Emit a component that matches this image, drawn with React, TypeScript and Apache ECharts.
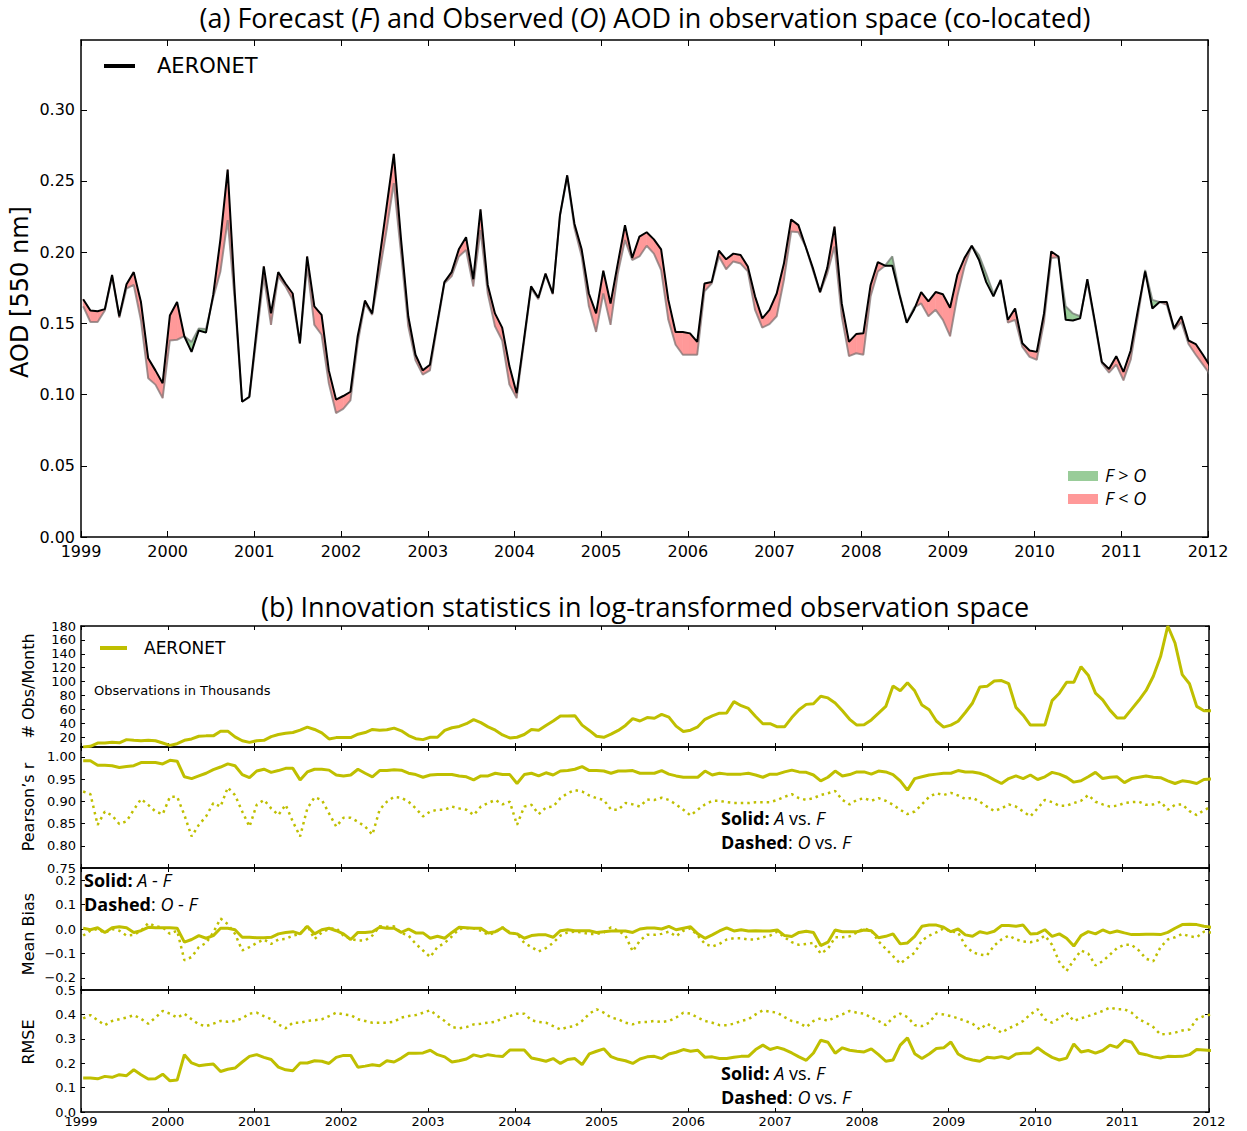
import React, { useEffect, useRef } from "react";
import * as echarts from "echarts";

// Monthly AOD at 550 nm, Jan 1999 onward: observed (AERONET) and co-located forecast
const observedAOD = [
  0.167, 0.159, 0.1585, 0.16, 0.184, 0.155, 0.1775, 0.186, 0.165, 0.1255, 0.117, 0.108,
  0.1555, 0.165, 0.141, 0.13, 0.145, 0.1435, 0.17, 0.209, 0.258, 0.17, 0.095, 0.0985,
  0.145, 0.19, 0.157, 0.186, 0.178, 0.171, 0.136, 0.197, 0.162, 0.156, 0.117, 0.0965,
  0.099, 0.102, 0.141, 0.166, 0.157, 0.195, 0.232, 0.269, 0.209, 0.155, 0.128, 0.117,
  0.121, 0.15, 0.179, 0.186, 0.202, 0.2105, 0.181, 0.23, 0.177, 0.157, 0.147, 0.12,
  0.101, 0.138, 0.176, 0.168, 0.185, 0.171, 0.226, 0.254, 0.22, 0.202, 0.171, 0.157,
  0.187, 0.164, 0.192, 0.219, 0.196, 0.211, 0.214, 0.209, 0.202, 0.1665, 0.144, 0.144,
  0.143, 0.137, 0.178, 0.179, 0.201, 0.195, 0.199, 0.198, 0.19, 0.169, 0.1535, 0.1595,
  0.171, 0.192, 0.223, 0.219, 0.204, 0.189, 0.172, 0.189, 0.218, 0.164, 0.137, 0.1425,
  0.143, 0.177, 0.193, 0.1905, 0.1905, 0.17, 0.1505, 0.1595, 0.172, 0.1655, 0.172, 0.1705,
  0.161, 0.184, 0.196, 0.2045, 0.1945, 0.179, 0.169, 0.1805, 0.1525, 0.1605, 0.136, 0.131,
  0.13, 0.157, 0.2005, 0.197, 0.1525, 0.152, 0.1535, 0.181, 0.1525, 0.123, 0.118, 0.127,
  0.116, 0.131, 0.1595, 0.1865, 0.1605, 0.165, 0.165, 0.1465, 0.155, 0.138, 0.1355, 0.128,
  0.12,
];
const forecastAOD = [
  0.162, 0.151, 0.151, 0.159, 0.183, 0.154, 0.1745, 0.177, 0.152, 0.1115, 0.107, 0.0975,
  0.138, 0.1385, 0.141, 0.137, 0.1465, 0.146, 0.168, 0.1865, 0.2225, 0.165, 0.095, 0.098,
  0.14, 0.183, 0.149, 0.183, 0.176, 0.1665, 0.136, 0.19, 0.149, 0.142, 0.108, 0.087,
  0.09, 0.096, 0.136, 0.164, 0.156, 0.185, 0.2155, 0.2485, 0.199, 0.148, 0.124, 0.114,
  0.117, 0.148, 0.178, 0.183, 0.197, 0.2015, 0.176, 0.2155, 0.171, 0.148, 0.138, 0.107,
  0.0975, 0.136, 0.1745, 0.167, 0.184, 0.1705, 0.2255, 0.253, 0.217, 0.197, 0.162, 0.144,
  0.171, 0.149, 0.185, 0.2085, 0.1945, 0.197, 0.2045, 0.199, 0.1875, 0.1525, 0.135, 0.128,
  0.128, 0.128, 0.1725, 0.178, 0.197, 0.188, 0.1935, 0.192, 0.1865, 0.1595, 0.147, 0.1495,
  0.155, 0.1805, 0.2145, 0.214, 0.204, 0.1875, 0.1715, 0.185, 0.204, 0.155, 0.127, 0.129,
  0.128, 0.169, 0.1865, 0.1905, 0.197, 0.171, 0.151, 0.161, 0.164, 0.155, 0.1595, 0.1525,
  0.141, 0.169, 0.19, 0.2045, 0.198, 0.185, 0.171, 0.1795, 0.1505, 0.1525, 0.1335, 0.1265,
  0.1245, 0.151, 0.196, 0.1965, 0.162, 0.157, 0.155, 0.179, 0.151, 0.122, 0.1155, 0.121,
  0.11, 0.1245, 0.155, 0.1875, 0.1665, 0.165, 0.163, 0.1455, 0.151, 0.1355, 0.128, 0.121,
  0.114,
];

// Observations per month, in thousands
const obsPerMonth = [
  6, 7, 11.7, 11.7, 12.7, 12, 16.6, 15.6, 15, 15.6, 15, 11.7,
  8.3, 10.7, 15.6, 17.6, 21.5, 22, 22, 28.8, 28.8, 20.5, 15, 12.7,
  15, 15.6, 21, 24, 25.8, 26.8, 30.2, 34.6, 31.2, 26.3, 17.6, 19.5,
  19.5, 19.5, 24.4, 26.8, 31.2, 30.2, 30.7, 33.2, 29.3, 22.4, 18, 16.6,
  20, 20, 29.8, 33.7, 35.6, 39.5, 45.4, 41, 35, 30.2, 23.4, 19,
  20, 24, 31.2, 30.2, 37, 43.4, 50.7, 50.7, 51, 37.5, 29.8, 21.5,
  20, 24.4, 29.8, 37, 46.8, 43.4, 48.3, 47.3, 53, 49, 36, 28.3,
  30.2, 35, 45.8, 50.7, 54.6, 55, 71.2, 65.4, 61.5, 49.8, 39.5, 39.5,
  35, 35, 48.3, 59.5, 67.3, 68.3, 79, 76.6, 69.3, 58, 45.8, 37.5,
  38, 44.9, 54.6, 64.4, 93.7, 86.8, 98.5, 86.8, 66.3, 59.5, 43.4, 34.6,
  37.5, 43, 55.6, 69.3, 92.2, 93.2, 101, 101.5, 97, 63, 51.7, 37.5,
  37.5, 37.5, 72.7, 83.4, 99, 99, 121.5, 109.3, 83.4, 73.7, 59, 47.8,
  47.8, 60.5, 73.2, 87.3, 107.8, 136, 180, 155.6, 110, 97, 64.4, 58,
  58,
];

// Pearson's r: analysis vs. forecast (solid) and observation vs. forecast (dashed)
const corrAnalysis = [
  0.991, 0.991, 0.981, 0.981, 0.98, 0.976, 0.978, 0.98, 0.987, 0.987, 0.987, 0.984,
  0.992, 0.99, 0.955, 0.951, 0.957, 0.963, 0.971, 0.977, 0.984, 0.98, 0.96, 0.953,
  0.968, 0.972, 0.965, 0.969, 0.974, 0.974, 0.948, 0.966, 0.972, 0.972, 0.97, 0.959,
  0.957, 0.959, 0.972, 0.963, 0.955, 0.969, 0.969, 0.971, 0.97, 0.963, 0.96, 0.954,
  0.959, 0.96, 0.96, 0.96, 0.957, 0.955, 0.948, 0.957, 0.957, 0.963, 0.96, 0.96,
  0.94, 0.96, 0.963, 0.957, 0.964, 0.959, 0.968, 0.969, 0.972, 0.978, 0.969, 0.969,
  0.968, 0.963, 0.968, 0.968, 0.969, 0.963, 0.963, 0.963, 0.969, 0.961, 0.957, 0.954,
  0.954, 0.954, 0.968, 0.959, 0.963, 0.961, 0.961, 0.961, 0.963, 0.959, 0.954, 0.961,
  0.961, 0.966, 0.97, 0.966, 0.965, 0.959, 0.946, 0.954, 0.968, 0.957, 0.96, 0.966,
  0.966, 0.961, 0.968, 0.966, 0.96, 0.946, 0.925, 0.951, 0.955, 0.959, 0.961, 0.963,
  0.963, 0.969, 0.966, 0.966, 0.963, 0.957, 0.948, 0.94, 0.951, 0.957, 0.951, 0.959,
  0.949, 0.955, 0.965, 0.961, 0.954, 0.943, 0.946, 0.955, 0.965, 0.951, 0.954, 0.955,
  0.942, 0.951, 0.954, 0.957, 0.954, 0.953, 0.946, 0.94, 0.946, 0.944, 0.94, 0.949,
  0.95,
];
const corrObserved = [
  0.922, 0.916, 0.847, 0.877, 0.868, 0.849, 0.855, 0.881, 0.905, 0.892, 0.877, 0.871,
  0.91, 0.91, 0.869, 0.821, 0.847, 0.866, 0.896, 0.888, 0.931, 0.914, 0.877, 0.843,
  0.892, 0.903, 0.884, 0.869, 0.892, 0.854, 0.821, 0.884, 0.909, 0.903, 0.873, 0.843,
  0.863, 0.863, 0.854, 0.843, 0.825, 0.881, 0.899, 0.91, 0.908, 0.899, 0.884, 0.866,
  0.877, 0.881, 0.881, 0.888, 0.884, 0.881, 0.869, 0.888, 0.896, 0.903, 0.893, 0.899,
  0.847, 0.888, 0.892, 0.871, 0.886, 0.888, 0.907, 0.918, 0.925, 0.922, 0.913, 0.907,
  0.903, 0.881, 0.881, 0.896, 0.893, 0.888, 0.904, 0.903, 0.908, 0.903, 0.893, 0.881,
  0.868, 0.881, 0.893, 0.901, 0.901, 0.898, 0.896, 0.896, 0.896, 0.898, 0.898, 0.898,
  0.903, 0.91, 0.916, 0.907, 0.903, 0.907, 0.914, 0.918, 0.923, 0.903, 0.893, 0.903,
  0.907, 0.901, 0.907, 0.901, 0.892, 0.881, 0.871, 0.877, 0.893, 0.91, 0.918, 0.914,
  0.919, 0.913, 0.905, 0.908, 0.899, 0.888, 0.878, 0.884, 0.893, 0.888, 0.877, 0.866,
  0.884, 0.903, 0.898, 0.89, 0.89, 0.896, 0.901, 0.914, 0.899, 0.893, 0.888, 0.89,
  0.896, 0.898, 0.899, 0.892, 0.893, 0.899, 0.881, 0.892, 0.893, 0.878, 0.869, 0.88,
  0.888,
];

// Mean bias: A - F (solid) and O - F (dashed)
const biasAnalysis = [
  0.003, -0.003, 0.005, -0.014, 0.005, 0.009, 0.005, -0.014, -0.007, 0.007, 0.005, 0.005,
  0.005, 0.003, -0.054, -0.043, -0.027, -0.038, -0.027, 0.003, 0.003, -0.003, -0.034, -0.034,
  -0.036, -0.036, -0.034, -0.02, -0.014, -0.011, -0.02, 0.011, -0.02, -0.003, 0.003, -0.007,
  -0.02, -0.043, -0.014, -0.014, -0.011, 0.007, 0.003, 0.003, -0.014, 0.0, -0.016, -0.016,
  -0.038, -0.03, -0.038, -0.014, 0.007, 0.005, 0.003, 0.003, -0.016, -0.011, 0.005, -0.016,
  -0.02, -0.038, -0.027, -0.024, -0.024, -0.034, -0.007, -0.003, -0.007, -0.007, -0.007, -0.014,
  -0.011, -0.008, -0.008, -0.008, -0.014, 0.0, 0.004, 0.004, 0.0, 0.011, -0.003, 0.003,
  0.009, -0.02, -0.038, -0.024, -0.008, 0.005, -0.008, -0.003, -0.008, -0.007, -0.008, -0.008,
  -0.004, -0.027, -0.031, -0.014, -0.009, -0.014, -0.068, -0.054, -0.004, -0.011, -0.011, -0.011,
  -0.004, -0.007, -0.036, -0.03, -0.02, -0.061, -0.057, -0.03, 0.011, 0.016, 0.016, 0.007,
  -0.011, 0.0, -0.024, -0.03, -0.011, -0.018, -0.009, 0.014, 0.014, 0.011, 0.016, -0.02,
  -0.018, -0.003, -0.03, -0.02, -0.038, -0.07, -0.027, -0.011, -0.02, -0.004, -0.016, -0.008,
  -0.016, -0.023, -0.023, -0.022, -0.022, -0.023, -0.014, 0.003, 0.018, 0.019, 0.018, 0.011,
  0.007,
];
const biasObserved = [
  -0.027, -0.007, 0.0, -0.016, 0.0, -0.007, -0.027, -0.024, -0.007, 0.024, 0.011, 0.007,
  -0.02, -0.007, -0.128, -0.115, -0.074, -0.057, -0.014, 0.043, 0.02, -0.02, -0.088, -0.074,
  -0.057, -0.043, -0.061, -0.043, -0.041, -0.027, -0.02, 0.014, -0.041, -0.014, 0.0, 0.003,
  -0.027, -0.041, -0.047, -0.047, -0.027, 0.011, 0.009, 0.011, -0.016, -0.027, -0.061, -0.088,
  -0.115, -0.074, -0.057, -0.03, 0.0, 0.003, 0.003, -0.007, -0.024, -0.014, 0.007, -0.014,
  -0.02, -0.057, -0.074, -0.092, -0.078, -0.057, -0.027, -0.014, -0.011, -0.014, -0.02, -0.02,
  -0.014, 0.007, -0.007, -0.027, -0.092, -0.047, -0.024, -0.024, -0.02, -0.011, -0.03, -0.007,
  0.003, -0.027, -0.061, -0.072, -0.061, -0.043, -0.038, -0.038, -0.043, -0.043, -0.034, -0.027,
  -0.011, -0.034, -0.054, -0.065, -0.061, -0.057, -0.101, -0.081, -0.034, -0.034, -0.03, -0.014,
  0.003, -0.007, -0.051, -0.081, -0.111, -0.142, -0.119, -0.097, -0.047, -0.027, -0.014, 0.003,
  -0.011, -0.014, -0.068, -0.095, -0.105, -0.108, -0.068, -0.043, -0.027, -0.043, -0.051, -0.054,
  -0.047, -0.027, -0.065, -0.135, -0.172, -0.128, -0.088, -0.101, -0.149, -0.132, -0.105, -0.078,
  -0.065, -0.065, -0.088, -0.122, -0.132, -0.074, -0.043, -0.034, -0.02, -0.03, -0.034, -0.011,
  -0.014,
];

// RMSE: A vs. F (solid) and O vs. F (dashed)
const rmseAnalysis = [
  0.139, 0.139, 0.136, 0.146, 0.142, 0.153, 0.149, 0.173, 0.153, 0.135, 0.136, 0.155,
  0.128, 0.131, 0.235, 0.201, 0.19, 0.194, 0.197, 0.166, 0.175, 0.18, 0.205, 0.228,
  0.235, 0.224, 0.215, 0.184, 0.173, 0.169, 0.201, 0.201, 0.21, 0.208, 0.199, 0.224,
  0.232, 0.232, 0.183, 0.188, 0.194, 0.19, 0.21, 0.205, 0.221, 0.241, 0.241, 0.242,
  0.253, 0.235, 0.226, 0.205, 0.21, 0.217, 0.234, 0.227, 0.235, 0.23, 0.227, 0.254,
  0.254, 0.254, 0.221, 0.215, 0.208, 0.219, 0.199, 0.215, 0.219, 0.194, 0.238, 0.249,
  0.259, 0.227, 0.216, 0.21, 0.199, 0.217, 0.226, 0.228, 0.219, 0.238, 0.245, 0.256,
  0.249, 0.253, 0.224, 0.226, 0.219, 0.219, 0.224, 0.228, 0.228, 0.256, 0.274, 0.256,
  0.265, 0.256, 0.242, 0.226, 0.212, 0.242, 0.294, 0.286, 0.241, 0.263, 0.253, 0.249,
  0.246, 0.259, 0.235, 0.208, 0.213, 0.274, 0.304, 0.239, 0.219, 0.238, 0.26, 0.263,
  0.287, 0.238, 0.221, 0.213, 0.208, 0.224, 0.221, 0.227, 0.219, 0.238, 0.241, 0.241,
  0.263, 0.242, 0.224, 0.213, 0.221, 0.279, 0.246, 0.252, 0.241, 0.252, 0.274, 0.265,
  0.294, 0.286, 0.241, 0.235, 0.226, 0.221, 0.228, 0.227, 0.228, 0.235, 0.256, 0.254,
  0.252,
];
const rmseObserved = [
  0.384, 0.397, 0.376, 0.356, 0.373, 0.38, 0.387, 0.397, 0.382, 0.362, 0.387, 0.414,
  0.403, 0.387, 0.403, 0.38, 0.359, 0.352, 0.362, 0.373, 0.37, 0.373, 0.384, 0.403,
  0.407, 0.393, 0.38, 0.359, 0.343, 0.366, 0.366, 0.373, 0.376, 0.38, 0.393, 0.407,
  0.4, 0.397, 0.38, 0.373, 0.366, 0.366, 0.366, 0.37, 0.387, 0.393, 0.397, 0.407,
  0.417, 0.393, 0.373, 0.348, 0.343, 0.348, 0.359, 0.362, 0.366, 0.37, 0.384, 0.393,
  0.403, 0.403, 0.376, 0.369, 0.366, 0.352, 0.338, 0.348, 0.352, 0.373, 0.403, 0.421,
  0.407, 0.387, 0.38, 0.366, 0.359, 0.368, 0.369, 0.373, 0.369, 0.373, 0.387, 0.407,
  0.403, 0.387, 0.373, 0.366, 0.356, 0.356, 0.362, 0.373, 0.38, 0.4, 0.417, 0.411,
  0.407, 0.389, 0.373, 0.366, 0.348, 0.373, 0.384, 0.373, 0.389, 0.4, 0.414, 0.407,
  0.403, 0.387, 0.373, 0.356, 0.387, 0.403, 0.389, 0.356, 0.352, 0.366, 0.403, 0.4,
  0.393, 0.384, 0.373, 0.362, 0.338, 0.362, 0.345, 0.325, 0.343, 0.356, 0.373, 0.4,
  0.421, 0.38, 0.366, 0.384, 0.407, 0.373, 0.384, 0.393, 0.403, 0.414, 0.428, 0.421,
  0.421, 0.407, 0.38, 0.366, 0.348, 0.318, 0.32, 0.325, 0.334, 0.338, 0.38, 0.393,
  0.4,
];

// Axis ticks
const yearTicks = [1999, 2000, 2001, 2002, 2003, 2004, 2005, 2006, 2007, 2008, 2009, 2010, 2011, 2012];
const aodTicks = [0, 0.05, 0.1, 0.15, 0.2, 0.25, 0.3];
const obsTicks = [20, 40, 60, 80, 100, 120, 140, 160, 180];
const corrTicks = [0.75, 0.8, 0.85, 0.9, 0.95, 1.0];
const biasTicks = [-0.2, -0.1, 0, 0.1, 0.2];
const rmseTicks = [0, 0.1, 0.2, 0.3, 0.4, 0.5];

const OLIVE = "#BFBF00";
const FILL_LOW = "#FF9999"; // F < O
const FILL_HIGH = "#99CC99"; // F > O
const TICK_FONT = "DejaVu Sans";
const TEXT_FONT = '"Open Sans", sans-serif';

// Decimal-year position of each monthly value
const monthPos = observedAOD.map((_, i) => 1999 + (i + 0.3) / 12);
const pairs = (vals: number[]) => vals.map((v, i) => [monthPos[i], v]);

// One item per month-to-month segment, for the shaded gap between O and F
const gapSegments = observedAOD.slice(0, -1).map((o, i) => [
  monthPos[i],
  monthPos[i + 1],
  o,
  observedAOD[i + 1],
  forecastAOD[i],
  forecastAOD[i + 1],
]);

function renderGap(_params: any, api: any) {
  const x0 = api.value(0);
  const x1 = api.value(1);
  const o0 = api.value(2);
  const o1 = api.value(3);
  const f0 = api.value(4);
  const f1 = api.value(5);
  const d0 = o0 - f0;
  const d1 = o1 - f1;
  const poly = (pts: number[][], fill: string) => ({
    type: "polygon",
    shape: { points: pts.map((p) => api.coord(p)) },
    style: { fill, stroke: fill, lineWidth: 0.6 },
  });
  const children: any[] = [];
  if (d0 * d1 >= 0) {
    const fill = d0 + d1 >= 0 ? FILL_LOW : FILL_HIGH;
    children.push(poly([[x0, o0], [x1, o1], [x1, f1], [x0, f0]], fill));
  } else {
    const t = d0 / (d0 - d1);
    const xc = x0 + t * (x1 - x0);
    const yc = o0 + t * (o1 - o0);
    children.push(poly([[x0, o0], [xc, yc], [x0, f0]], d0 > 0 ? FILL_LOW : FILL_HIGH));
    children.push(poly([[xc, yc], [x1, o1], [x1, f1]], d1 > 0 ? FILL_LOW : FILL_HIGH));
  }
  return { type: "group", children };
}

function buildOption() {
  const grids = [
    { left: 81, top: 40, width: 1127, height: 497 },
    { left: 81, top: 626, width: 1128, height: 121 },
    { left: 81, top: 747, width: 1128, height: 121 },
    { left: 81, top: 868, width: 1128, height: 122 },
    { left: 81, top: 990, width: 1128, height: 122 },
  ];
  const spine = { show: true, onZero: false, lineStyle: { color: "#000", width: 1.5 } };

  const xAxis: any[] = [];
  const yAxis: any[] = [];
  grids.forEach((_, g) => {
    const showLabels = g === 0 || g === 4;
    const tickLen = g === 0 ? 6 : 4;
    const base = {
      type: "value",
      gridIndex: g,
      min: 1999,
      max: 2012,
      interval: 1,
      axisLine: spine,
      splitLine: { show: false },
      axisTick: { show: true, inside: true, length: tickLen, lineStyle: { color: "#000", width: 1 } },
    };
    xAxis.push({
      ...base,
      position: "bottom",
      axisLabel: {
        show: showLabels,
        fontFamily: TICK_FONT,
        fontSize: g === 0 ? 16 : 13,
        color: "#000",
        margin: g === 0 ? 6 : 3,
        formatter: (v: number) => String(v),
        customValues: yearTicks,
      },
    });
    xAxis.push({ ...base, position: "top", axisLabel: { show: false } });
  });

  const yDefs = [
    { min: 0, max: 0.349, ticks: aodTicks, fmt: (v: number) => v.toFixed(2), size: 16 },
    { min: 6, max: 180, ticks: obsTicks, fmt: (v: number) => String(v), size: 13 },
    { min: 0.75, max: 1.022, ticks: corrTicks, fmt: (v: number) => v.toFixed(2), size: 13 },
    {
      min: -0.25,
      max: 0.25,
      ticks: biasTicks,
      fmt: (v: number) => (v < -1e-9 ? "\u2212" : "") + Math.abs(v).toFixed(1),
      size: 13,
    },
    { min: 0, max: 0.5, ticks: rmseTicks, fmt: (v: number) => v.toFixed(1), size: 13 },
  ];
  yDefs.forEach((d, g) => {
    const tickLen = g === 0 ? 6 : 4;
    const base = {
      type: "value",
      gridIndex: g,
      min: d.min,
      max: d.max,
      axisLine: spine,
      splitLine: { show: false },
      axisTick: {
        show: true,
        inside: true,
        length: tickLen,
        customValues: d.ticks,
        lineStyle: { color: "#000", width: 1 },
      },
    };
    yAxis.push({
      ...base,
      position: "left",
      axisLabel: {
        show: true,
        customValues: d.ticks,
        formatter: d.fmt,
        fontFamily: TICK_FONT,
        fontSize: d.size,
        color: "#000",
        margin: g === 0 ? 6 : 5,
      },
    });
    yAxis.push({ ...base, position: "right", axisLabel: { show: false } });
  });

  const line = (data: number[], g: number, style: any, extra: any = {}) => ({
    type: "line",
    xAxisIndex: 2 * g,
    yAxisIndex: 2 * g,
    data: pairs(data),
    showSymbol: false,
    symbol: "none",
    silent: true,
    lineStyle: style,
    ...extra,
  });

  const dotted = { color: OLIVE, width: 2.5, type: [2.5, 4] };
  const solid = { color: OLIVE, width: 3 };

  const series: any[] = [
    {
      type: "custom",
      xAxisIndex: 0,
      yAxisIndex: 0,
      coordinateSystem: "cartesian2d",
      renderItem: renderGap,
      data: gapSegments,
      encode: { x: [0, 1], y: [2, 3, 4, 5] },
      clip: true,
      silent: true,
    },
    line(forecastAOD, 0, { color: "rgba(110,110,110,0.65)", width: 2 }),
    line(observedAOD, 0, { color: "#000", width: 2 }),
    line(obsPerMonth, 1, solid),
    line(corrObserved, 2, dotted),
    line(corrAnalysis, 2, solid),
    line(biasObserved, 3, dotted),
    line(biasAnalysis, 3, solid),
    line(rmseObserved, 4, dotted),
    line(rmseAnalysis, 4, solid),
  ];

  const NOTE_SIZE = 18;
  const ital = { fontStyle: "italic", fontFamily: TEXT_FONT, fontSize: NOTE_SIZE, fill: "#000" };
  const bold = { fontWeight: "bold", fontFamily: TEXT_FONT, fontSize: NOTE_SIZE, fill: "#000" };
  const note = (x: number, y: number, text: string) => ({
    type: "text",
    x,
    y,
    silent: true,
    style: {
      text,
      fontFamily: TEXT_FONT,
      fontSize: NOTE_SIZE,
      fill: "#000",
      verticalAlign: "middle",
      rich: { b: bold, i: ital },
    },
  });
  const yName = (x: number, y: number, text: string, size: number) => ({
    type: "text",
    x,
    y,
    rotation: Math.PI / 2,
    silent: true,
    style: { text, fontFamily: TICK_FONT, fontSize: size, fill: "#000", align: "center", verticalAlign: "middle" },
  });
  const TITLE_SIZE = 27;
  const titleIt = { fontStyle: "italic", fontFamily: TEXT_FONT, fontSize: TITLE_SIZE, fill: "#000" };

  const graphic: any[] = [
    {
      type: "text",
      x: 645,
      y: 17,
      silent: true,
      style: {
        text: "(a) Forecast ({i|F}) and Observed ({i|O}) AOD in observation space (co-located)",
        fontFamily: TEXT_FONT,
        fontSize: TITLE_SIZE,
        fill: "#000",
        align: "center",
        verticalAlign: "middle",
        rich: { i: titleIt },
      },
    },
    {
      type: "text",
      x: 645,
      y: 606,
      silent: true,
      style: {
        text: "(b) Innovation statistics in log-transformed observation space",
        fontFamily: TEXT_FONT,
        fontSize: TITLE_SIZE,
        fill: "#000",
        align: "center",
        verticalAlign: "middle",
      },
    },
    yName(20, 292, "AOD [550 nm]", 24),
    yName(28, 686, "# Obs/Month", 16),
    yName(28, 807, "Pearson\u2019s r", 16),
    yName(28, 934, "Mean Bias", 16),
    yName(28, 1042, "RMSE", 16),
    // legend of panel (a)
    { type: "line", silent: true, shape: { x1: 104, y1: 66, x2: 135, y2: 66 }, style: { stroke: "#000", lineWidth: 4 } },
    {
      type: "text",
      x: 157,
      y: 66,
      silent: true,
      style: { text: "AERONET", fontFamily: TICK_FONT, fontSize: 21, fill: "#000", verticalAlign: "middle" },
    },
    { type: "rect", silent: true, shape: { x: 1068, y: 471, width: 30, height: 10 }, style: { fill: FILL_HIGH } },
    { type: "rect", silent: true, shape: { x: 1068, y: 494, width: 30, height: 10 }, style: { fill: FILL_LOW } },
    note(1105, 475, "{i|F} > {i|O}"),
    note(1105, 498, "{i|F} < {i|O}"),
    // legend of panel (b)
    { type: "line", silent: true, shape: { x1: 100, y1: 648, x2: 127, y2: 648 }, style: { stroke: OLIVE, lineWidth: 4 } },
    {
      type: "text",
      x: 144,
      y: 648,
      silent: true,
      style: { text: "AERONET", fontFamily: TICK_FONT, fontSize: 17, fill: "#000", verticalAlign: "middle" },
    },
    {
      type: "text",
      x: 94,
      y: 690,
      silent: true,
      style: { text: "Observations in Thousands", fontFamily: TICK_FONT, fontSize: 13, fill: "#000", verticalAlign: "middle" },
    },
    note(721, 818, "{b|Solid:} {i|A} vs. {i|F}"),
    note(721, 842, "{b|Dashed}: {i|O} vs. {i|F}"),
    note(84, 880, "{b|Solid:} {i|A} - {i|F}"),
    note(84, 904, "{b|Dashed}: {i|O} - {i|F}"),
    note(721, 1073, "{b|Solid:} {i|A} vs. {i|F}"),
    note(721, 1097, "{b|Dashed}: {i|O} vs. {i|F}"),
  ];

  return {
    animation: false,
    backgroundColor: "#fff",
    grid: grids,
    xAxis,
    yAxis,
    series,
    graphic,
  };
}

export default function App() {
  const ref = useRef<HTMLDivElement>(null);
  useEffect(() => {
    if (!ref.current) return;
    const chart = echarts.init(ref.current, null, { renderer: "svg" });
    chart.setOption(buildOption() as any);
    return () => chart.dispose();
  }, []);
  return (
    <div
      ref={ref}
      style={{ position: "absolute", left: 0, top: 0, width: 1247, height: 1131, background: "#fff" }}
    />
  );
}
